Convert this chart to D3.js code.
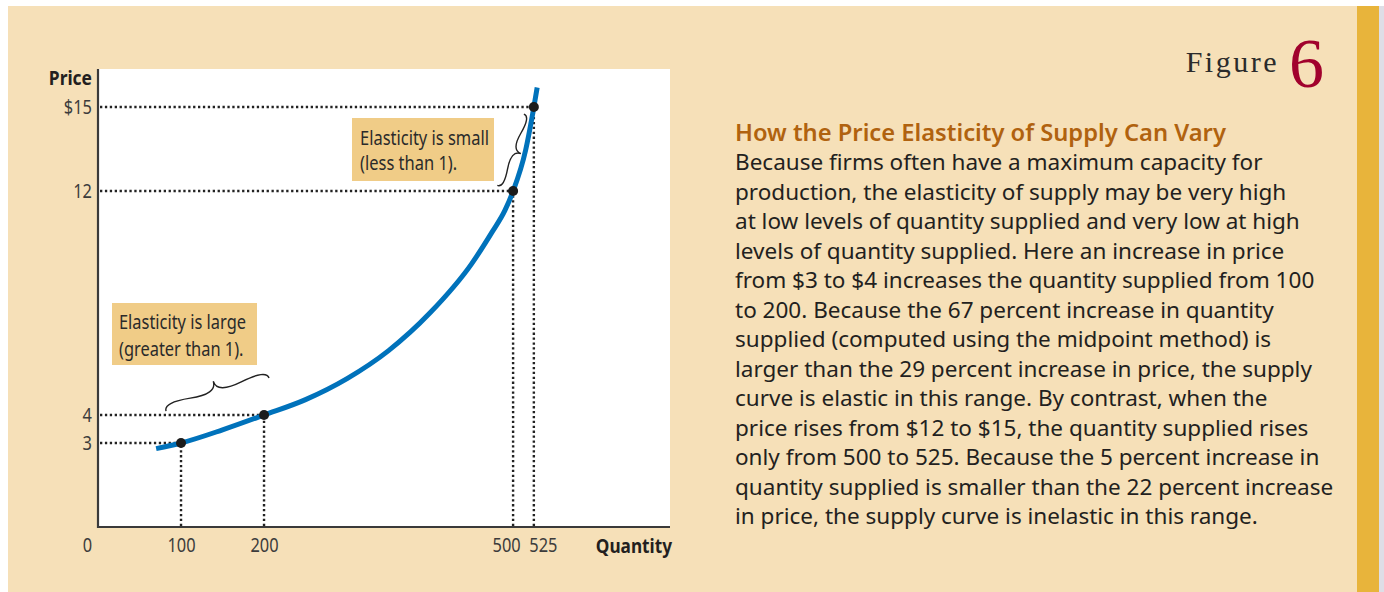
<!DOCTYPE html>
<html>
<head>
<meta charset="utf-8">
<script src="https://cdn.jsdelivr.net/npm/d3@7/dist/d3.min.js"></script>
<style>
  html, body { margin: 0; padding: 0; background: #ffffff; }
  svg { display: block; }
</style>
</head>
<body>
<svg id="chart" width="1384" height="592"></svg>
<script>
// ---------------- data ----------------
const xTickValues = [0, 100, 200, 500, 525];
const xTickLabels = ["0", "100", "200", "500", "525"];
const yTickValues = [3, 4, 12, 15];
const yTickLabels = ["3", "4", "12", "$15"];

// supply curve (quantity, price)
const supplyQ = [70, 100, 150, 200, 250, 300, 350, 400, 450, 475, 490, 500, 515, 525, 529];
const supplyP = [2.8, 3, 3.47, 4, 4.55, 5.3, 6.3, 7.65, 9.4, 10.55, 11.3, 12, 13.45, 15, 15.7];

// marked points
const markQ = [100, 200, 500, 525];
const markP = [3, 4, 12, 15];

const xAxisTitle = "Quantity";
const yAxisTitle = "Price";

const noteSmall = ["Elasticity is small", "(less than 1)."];
const noteLarge = ["Elasticity is large", "(greater than 1)."];

const figureWord = "Figure";
const figureNumber = "6";
const heading = "How the Price Elasticity of Supply Can Vary";
const bodyLines = [
  "Because firms often have a maximum capacity for",
  "production, the elasticity of supply may be very high",
  "at low levels of quantity supplied and very low at high",
  "levels of quantity supplied. Here an increase in price",
  "from $3 to $4 increases the quantity supplied from 100",
  "to 200. Because the 67 percent increase in quantity",
  "supplied (computed using the midpoint method) is",
  "larger than the 29 percent increase in price, the supply",
  "curve is elastic in this range. By contrast, when the",
  "price rises from $12 to $15, the quantity supplied rises",
  "only from 500 to 525. Because the 5 percent increase in",
  "quantity supplied is smaller than the 22 percent increase",
  "in price, the supply curve is inelastic in this range."
];

// ---------------- layout ----------------
const svg = d3.select("#chart");
const W = 1384, H = 592;
const plot = { left: 98, right: 670, top: 69, bottom: 527 };

const chartFont = "'Noto Sans', 'Open Sans', sans-serif";
const bodyFont = "'Noto Sans', 'Open Sans', sans-serif";

// horizontally condense a text to mimic a condensed face
function condense(sel, f) {
  sel.each(function () {
    const len = this.getComputedTextLength();
    d3.select(this).attr("textLength", len * f).attr("lengthAdjust", "spacingAndGlyphs");
  });
}

// background panels
svg.append("rect").attr("x", 0).attr("y", 0).attr("width", W).attr("height", H).attr("fill", "#ffffff");
svg.append("rect").attr("x", 8).attr("y", 6).attr("width", 1349).attr("height", H - 6).attr("fill", "#f6e0b8");
svg.append("rect").attr("x", 1357).attr("y", 6).attr("width", 22).attr("height", H - 6).attr("fill", "#e8b43b");
svg.append("rect").attr("x", 1379).attr("y", 6).attr("width", 5).attr("height", H - 6).attr("fill", "#dedee6");

// plot area
svg.append("rect").attr("x", plot.left).attr("y", plot.top)
  .attr("width", plot.right - plot.left).attr("height", plot.bottom - plot.top)
  .attr("fill", "#ffffff");

const x = d3.scaleLinear().domain([0, 689]).range([plot.left, plot.right]);
const y = d3.scaleLinear().domain([0, 16.36]).range([plot.bottom, plot.top]);

// dotted guides
const guides = svg.append("g").attr("stroke", "#222").attr("stroke-width", 2.4)
  .attr("stroke-dasharray", "2.3,2.6").attr("fill", "none");
markQ.forEach((q, i) => {
  const p = markP[i];
  guides.append("line").attr("x1", x(0) + 2).attr("x2", x(q)).attr("y1", y(p)).attr("y2", y(p));
  guides.append("line").attr("x1", x(q)).attr("x2", x(q)).attr("y1", y(0) - 1).attr("y2", y(p));
});

// supply curve
const supply = supplyQ.map((q, i) => [q, supplyP[i]]);
svg.append("path")
  .datum(supply)
  .attr("fill", "none")
  .attr("stroke", "#0072bb")
  .attr("stroke-width", 5)
  .attr("d", d3.line().x(d => x(d[0])).y(d => y(d[1])).curve(d3.curveMonotoneX));

// points
svg.append("g").selectAll("circle")
  .data(markQ.map((q, i) => [q, markP[i]]))
  .join("circle")
  .attr("cx", d => x(d[0])).attr("cy", d => y(d[1]))
  .attr("r", 5).attr("fill", "#1c1c1c");

// axes
const yAxis = d3.axisLeft(y).tickValues(yTickValues)
  .tickFormat((d, i) => yTickLabels[i]).tickSize(0).tickSizeOuter(0).tickPadding(6);
const gy = svg.append("g").attr("transform", `translate(${plot.left},0)`).call(yAxis);
gy.select(".domain").attr("stroke", "#3a3a3a").attr("stroke-width", 2.2)
  .attr("d", `M0,${plot.top}V${plot.bottom + 1}`);
gy.selectAll("text").attr("font-family", chartFont).attr("font-size", 20).attr("fill", "#3c3c3c");
condense(gy.selectAll("text"), 0.82);

const xLabelShift = { 0: -11, 500: -7, 525: 9 };
const xAxis = d3.axisBottom(x).tickValues(xTickValues)
  .tickFormat((d, i) => xTickLabels[i]).tickSize(0).tickSizeOuter(0).tickPadding(11);
const gx = svg.append("g").attr("transform", `translate(0,${plot.bottom})`).call(xAxis);
gx.select(".domain").attr("stroke", "#3a3a3a").attr("stroke-width", 2.2)
  .attr("d", `M${plot.left - 1},0H${plot.right}`);
gx.selectAll("text").attr("font-family", chartFont).attr("font-size", 20).attr("fill", "#3c3c3c")
  .attr("dx", d => xLabelShift[d] || 0);
condense(gx.selectAll("text"), 0.82);

const yt = svg.append("text").text(yAxisTitle).attr("x", 92).attr("y", 85)
  .attr("text-anchor", "end").attr("font-family", chartFont).attr("font-weight", "bold")
  .attr("font-size", 20).attr("fill", "#231f20");
const xt = svg.append("text").text(xAxisTitle).attr("x", 672).attr("y", 553)
  .attr("text-anchor", "end").attr("font-family", chartFont).attr("font-weight", "bold")
  .attr("font-size", 20).attr("fill", "#231f20");
condense(yt, 0.87);
condense(xt, 0.86);

// annotation boxes
function noteBox(lines, bx, by, bw, bh, tx, ty0, lh, target) {
  svg.append("rect").attr("x", bx).attr("y", by).attr("width", bw).attr("height", bh).attr("fill", "#f0cc87");
  const ts = lines.map((t, i) => svg.append("text").text(t).attr("x", tx).attr("y", ty0 + i * lh)
    .attr("font-family", chartFont).attr("font-size", 19.5).attr("fill", "#2a2a2a"));
  const f = target / ts[0].node().getComputedTextLength();
  ts.forEach(s => condense(s, f));
}
noteBox(noteSmall, 352, 118, 142, 63, 360, 145, 24.5, 129);
noteBox(noteLarge, 112, 303, 145, 62, 119, 329, 26.5, 127);

// curly braces
function bracePath(x1, y1, x2, y2, w, q) {
  let dx = x1 - x2, dy = y1 - y2;
  const len = Math.sqrt(dx * dx + dy * dy);
  dx /= len; dy /= len;
  const qx1 = x1 + q * w * dy, qy1 = y1 - q * w * dx;
  const qx2 = (x1 - .25 * len * dx) + (1 - q) * w * dy, qy2 = (y1 - .25 * len * dy) - (1 - q) * w * dx;
  const tx1 = (x1 - .5 * len * dx) + w * dy, ty1 = (y1 - .5 * len * dy) - w * dx;
  const qx3 = x2 + q * w * dy, qy3 = y2 - q * w * dx;
  const qx4 = (x1 - .75 * len * dx) + (1 - q) * w * dy, qy4 = (y1 - .75 * len * dy) - (1 - q) * w * dx;
  return `M${x1},${y1}Q${qx1},${qy1} ${qx2},${qy2}T${tx1},${ty1}M${x2},${y2}Q${qx3},${qy3} ${qx4},${qy4}T${tx1},${ty1}`;
}
// brace ends in data coordinates
const braceLarge = [[82, 4.14], [206, 5.32]];
const braceSmall = [[481, 12.2], [513, 14.75]];
svg.append("path")
  .attr("d", bracePath(x(braceLarge[1][0]), y(braceLarge[1][1]), x(braceLarge[0][0]), y(braceLarge[0][1]), 14, 0.65))
  .attr("fill", "none").attr("stroke", "#222").attr("stroke-width", 1.4);
svg.append("path")
  .attr("d", bracePath(x(braceSmall[0][0]), y(braceSmall[0][1]), x(braceSmall[1][0]), y(braceSmall[1][1]), 11, 0.65))
  .attr("fill", "none").attr("stroke", "#222").attr("stroke-width", 1.4);

// figure label
svg.append("text").text(figureWord).attr("x", 1279).attr("y", 72)
  .attr("text-anchor", "end").attr("font-family", "'Liberation Serif', 'DejaVu Serif', serif")
  .attr("font-size", 30).attr("letter-spacing", 2.5).attr("fill", "#2b2b2b");
svg.append("text").text(figureNumber).attr("x", 1289).attr("y", 87)
  .attr("font-family", "'Liberation Serif', 'DejaVu Serif', serif")
  .attr("font-size", 70).attr("fill", "#a1022d");

// heading and body
function fitSize(textSel, target, base) {
  const w = textSel.node().getComputedTextLength();
  return base * target / w;
}
const head = svg.append("text").text(heading).attr("x", 735).attr("y", 141)
  .attr("font-family", bodyFont).attr("font-weight", 600).attr("font-size", 20).attr("fill", "#b0620f");
head.attr("font-size", fitSize(head, 491, 20));

const probe = svg.append("text").text(bodyLines[0]).attr("font-family", bodyFont).attr("font-size", 20);
const bodySize = fitSize(probe, 528, 20);
probe.remove();
const body = svg.append("g");
bodyLines.forEach((t, i) => {
  body.append("text").text(t).attr("x", 735).attr("y", 170 + i * 29.5)
    .attr("font-family", bodyFont).attr("font-size", bodySize).attr("fill", "#231f20");
});
</script>
</body>
</html>
